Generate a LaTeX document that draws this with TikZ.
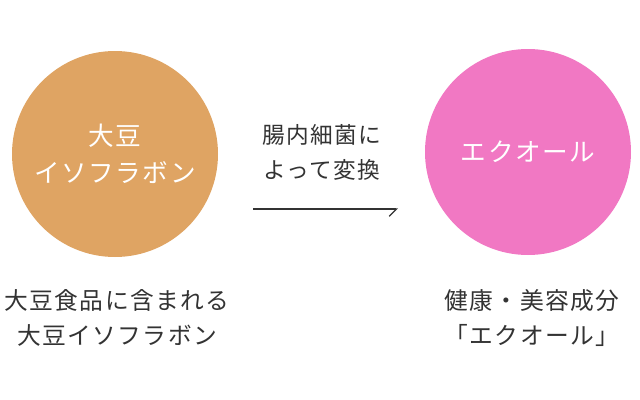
\documentclass[tikz,border=0pt]{standalone}
\usepackage{fontspec}
\newfontfamily\jpfont[LetterSpace=6]{Noto Sans CJK JP}
\usetikzlibrary{arrows.meta}

\definecolor{soyOrange}{RGB}{223,164,99}
\definecolor{equolPink}{RGB}{241,120,195}
\definecolor{textGray}{RGB}{51,51,51}

\tikzset{every picture/.style={line width=0.75pt}}
\tikzset{
  ball/.style={circle, inner sep=0pt, minimum size=154.5pt, text=white, align=center},
  balltext/.style={font={\jpfont\fontsize{19.2pt}{27.75pt}\selectfont}},
  captext/.style={text=textGray, align=center, inner sep=0.75pt, font={\jpfont\fontsize{17.8pt}{26.25pt}\selectfont}},
  midtext/.style={text=textGray, align=center, inner sep=0.75pt, font={\jpfont\fontsize{17pt}{26.25pt}\selectfont}}
}

\begin{document}
\begin{tikzpicture}[x=0.75pt,y=0.75pt,yscale=-1,xscale=1]
    \useasboundingbox (0,0) rectangle (640,400);

    %Shape: Circle [soy]
    \node [ball, fill=soyOrange, balltext] (soy) at (115,154) {大豆\\イソフラボン};
    %Shape: Circle [equol]
    \node [ball, fill=equolPink, balltext] (equol) at (528,152) {エクオール};

    % Text Node
    \node [midtext] (bacteria) at (322,152.5) {腸内細菌に\\よって変換};

    %Straight Lines [convert]
    \coordinate (arrStart) at (253,209);
    \coordinate (arrEnd) at (398,209);
    \draw [textGray, line width=0.9pt, -{Straight Barb[harpoon, swap, length=5.5pt, width=11pt]}] (arrStart) -- (arrEnd);

    % Text Node
    \node [captext] (soyCap) at (117,318) {大豆食品に含まれる\\大豆イソフラボン};
    % Text Node
    \node [captext] (equolCap) at (532,318) {健康・美容成分\\「エクオール」};

\end{tikzpicture}
\end{document}
